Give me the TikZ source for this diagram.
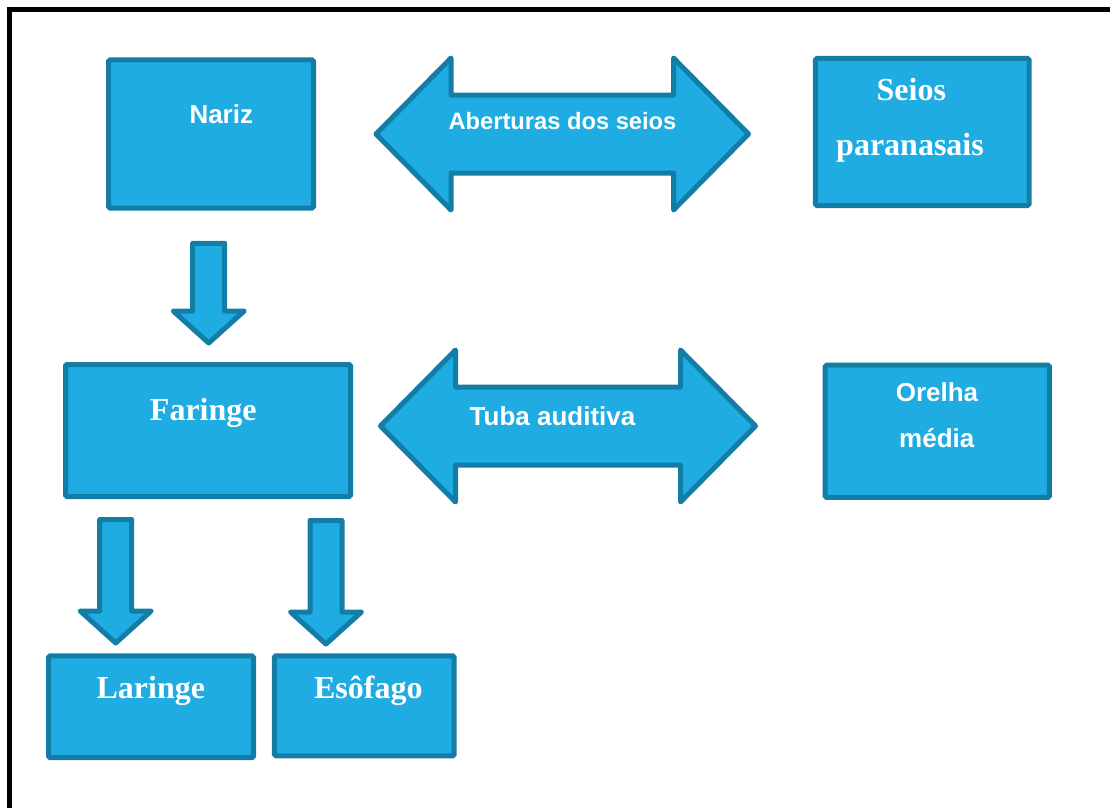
\documentclass[tikz,border=0pt]{standalone}
\usepackage{fontspec}
\setmainfont{Liberation Serif}
\setsansfont{Liberation Sans}
\usetikzlibrary{calc}

\definecolor{boxfill}{RGB}{30,172,226}
\definecolor{boxline}{RGB}{20,125,166}

\tikzset{
  organ/.style={draw=boxline, fill=boxfill, line width=5pt, rounded corners=1.5pt, inner sep=0pt},
  blockarrow/.style={draw=boxline, fill=boxfill, line width=5pt, line join=round},
  sanstext/.style={text=white, inner sep=0pt, anchor=base, font=\sffamily\bfseries\fontsize{26}{30}\selectfont},
  seriftext/.style={text=white, inner sep=0pt, anchor=base, font=\rmfamily\bfseries\fontsize{32}{36}\selectfont}
}

% block arrow pointing down: #1 = top of shaft, #2 = tip
\newcommand{\downblock}[2]{%
  \draw[blockarrow] ($(#1)+(-16,0)$) -- ($(#1)+(16,0)$) -- ($(#2)+(16,-32)$)
    -- ($(#2)+(35.5,-32)$) -- (#2) -- ($(#2)+(-35.5,-32)$) -- ($(#2)+(-16,-32)$) -- cycle;}

% block arrow with two heads: #1 = left tip, #2 = right tip
\newcommand{\twinblock}[2]{%
  \draw[blockarrow] (#1) -- ($(#1)+(75,-76)$) -- ($(#1)+(75,-39)$) -- ($(#2)+(-75,-39)$)
    -- ($(#2)+(-75,-76)$) -- (#2) -- ($(#2)+(-75,76)$) -- ($(#2)+(-75,39)$)
    -- ($(#1)+(75,39)$) -- ($(#1)+(75,76)$) -- cycle;}

\begin{document}
\begin{tikzpicture}[x=1pt,y=-1pt]
    \useasboundingbox[fill=white] (0,0) rectangle (1110,808);
    \draw[line width=5pt] (9.5,808) |- (1110,9.5);
    % ---- boxes ----
    \node[organ, minimum width=205pt, minimum height=148pt] (nariz)   at (211,134)     {};
    \node[organ, minimum width=213.7pt, minimum height=147pt] (seios) at (922.3,132)   {};
    \node[organ, minimum width=285pt, minimum height=132pt] (faringe) at (208,430.5)   {};
    \node[organ, minimum width=224.3pt, minimum height=132.3pt] (orelha) at (937.3,431.3) {};
    \node[organ, minimum width=205pt, minimum height=101.7pt] (laringe) at (151,706.7) {};
    \node[organ, minimum width=179.7pt, minimum height=100pt] (esofago) at (364.3,705.8) {};
    % ---- box texts ----
    \node[sanstext]  (nariz-t)   at (221.3,123.3) {Nariz};
    \node[seriftext] (seios-t1)  at (911.3,100)   {Seios};
    \node[seriftext] (seios-t2)  at (910,155.5)   {paranasais};
    \node[seriftext] (faringe-t) at (203.3,420)   {Faringe};
    \node[sanstext]  (orelha-t1) at (937,401.5)   {Orelha};
    \node[sanstext]  (orelha-t2) at (936.8,447.3) {média};
    \node[seriftext] (laringe-t) at (150.8,698.3) {Laringe};
    \node[seriftext] (esofago-t) at (368.3,698.3) {Esôfago};
    % ---- down arrows ----
    \coordinate (nf-top) at (208.7,243.3);  \coordinate (nf-tip) at (208.7,343);
    \coordinate (fl-top) at (115.7,519.5);  \coordinate (fl-tip) at (115.7,643);
    \coordinate (fe-top) at (326,520.5);    \coordinate (fe-tip) at (326,644);
    \foreach \a in {nf,fl,fe}{
      \downblock{\a-top}{\a-tip}}
    % ---- two-headed arrows ----
    \coordinate (ab-l) at (376,134);    \coordinate (ab-r) at (748.5,134);
    \coordinate (tu-l) at (380.5,426);  \coordinate (tu-r) at (755.5,426);
    \twinblock{ab-l}{ab-r}
    \twinblock{tu-l}{tu-r}
    \node[sanstext, font=\sffamily\bfseries\fontsize{23.7}{28}\selectfont] (ab-t) at (562.5,129.3) {Aberturas dos seios};
    \node[sanstext] (tu-t) at (552.5,425) {Tuba auditiva};
\end{tikzpicture}
\end{document}
